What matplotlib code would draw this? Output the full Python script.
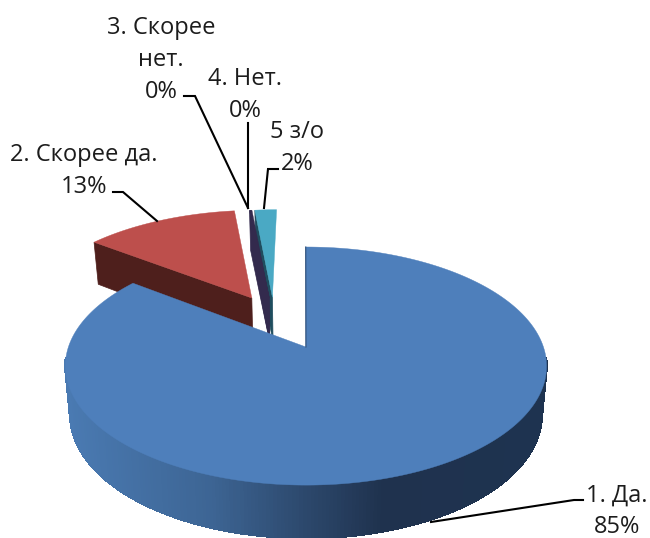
# -*- coding: utf-8 -*-
"""
3D exploded pie, drawn with polygons in pixel coordinates
"""

import numpy as np
from matplotlib import pyplot as plt
from matplotlib.collections import PolyCollection
from matplotlib.colors import LinearSegmentedColormap

# Data

labels = ["1. Да.", "2. Скорее да.", "3. Скорее\nнет.", "4. Нет.", "5 з/о"]
values = [85.3, 12.7, 0.1, 0.1, 1.8]

# Styles

top_colors = ["#4e7fbb", "#bd4f4c", "#332a4d", "#332a4d", "#4aa9c4"]
cut_colors = ["#27405f", "#4e1f1c", "#332a4d", "#332a4d", "#1f4d5e"]
explode = [(0.006, 0), (-0.238, 0.453), (-0.16, 0.46), (-0.16, 0.46), (-0.145, 0.46)]
text_pos = [(617, 511), (84, 171), (161, 60), (245, 95), (297, 148)]
leaders = [[(583, 500), (574, 500), (431, 522)],
           [(113, 192), (123, 192), (157, 221)],
           [(184, 96), (195, 96), (248, 208)],
           [(248, 123), (248, 208)],
           [(278, 169), (268, 169), (264, 208)]]

# Projection constants

X0, Y0 = 304.5, 347
A, H = 237.5, 116
P = 0.16


def project(u, v, bottom=False):
    u, v = np.asarray(u, float), np.asarray(v, float)
    w = 1 + P*v
    x = A*u/w
    y = Y0 - H*v/w
    if bottom:
        x = x*0.98
        y = y + 40 + 13*(1.44-v)/2.44
    return np.column_stack([X0 + x, y])


def rim(start, end, off, n=200):
    t = np.radians(np.linspace(start, end, max(n, 2)))
    return off[0] + np.sin(t), off[1] + np.cos(t)


fig = plt.figure(figsize=(6.5, 5.38), dpi=100)
ax = fig.add_axes([0, 0, 1, 1])
ax.set_xlim(0, 650)
ax.set_ylim(538, 0)
ax.axis("off")

shares = np.array(values)/sum(values)*360
starts = np.concatenate([[0], np.cumsum(shares)[:-1]])
ends = starts + shares


def draw_cut(i):
    off = explode[i]
    u, v = rim(starts[i], ends[i], off, 60)
    a = project([u[0], off[0]], [v[0], off[1]])
    b = project([off[0], u[0]], [off[1], v[0]], bottom=True)
    ax.fill(*np.vstack([a, b]).T, color=cut_colors[i], lw=0.5)


def draw_top(i, n=60):
    off = explode[i]
    u, v = rim(starts[i], ends[i], off, n)
    top = project(np.r_[off[0], u], np.r_[off[1], v])
    ax.fill(*top.T, color=top_colors[i], lw=0.3)
    return top


# back slices: the dark teal wall stays only as a strip next to the purple one
draw_cut(1)
draw_top(1)
draw_cut(4)
draw_cut(2)
draw_cut(3)
draw_top(2)
draw_top(3)
draw_top(4)

# Big slice: outer wall with gradient, then top face

blue_side = LinearSegmentedColormap.from_list(
    "blue_side", [(0, "#4a7ab2"), (0.3, "#3d6594"), (0.5, "#2c486c"), (0.66, "#1f324e"), (1, "#1e3350")])
off = explode[0]
u, v = rim(starts[0], ends[0], off, 400)
t_pts = project(u, v)
b_pts = project(u, v, bottom=True)
quads = []
shade = []
for k in range(len(u)-1):
    if v[k] > -0.1 and v[k+1] > -0.1:
        continue
    quads.append([t_pts[k], t_pts[k+1], b_pts[k+1], b_pts[k]])
    shade.append(blue_side((t_pts[k, 0]-65)/483))
ax.add_collection(PolyCollection(quads, facecolors=shade, edgecolors=shade, linewidths=1.0, antialiaseds=False))
top = draw_top(0, 400)
ax.plot([top[1, 0], top[0, 0]], [top[1, 1], top[0, 1]], color="#2f4f78", lw=0.8)

# Labels and leader lines

for i, name in enumerate(labels):
    pct = "%d%%" % round(values[i])
    ax.text(text_pos[i][0], text_pos[i][1], name + "\n" + pct, ha="center", va="center",
            fontsize=17, family="Open Sans", color="#1c1c1c", linespacing=1.42)
    pts = np.array(leaders[i])
    ax.plot(pts[:, 0], pts[:, 1], color="black", lw=1.5, solid_joinstyle="miter")

fig.savefig("out.png", dpi=100)
